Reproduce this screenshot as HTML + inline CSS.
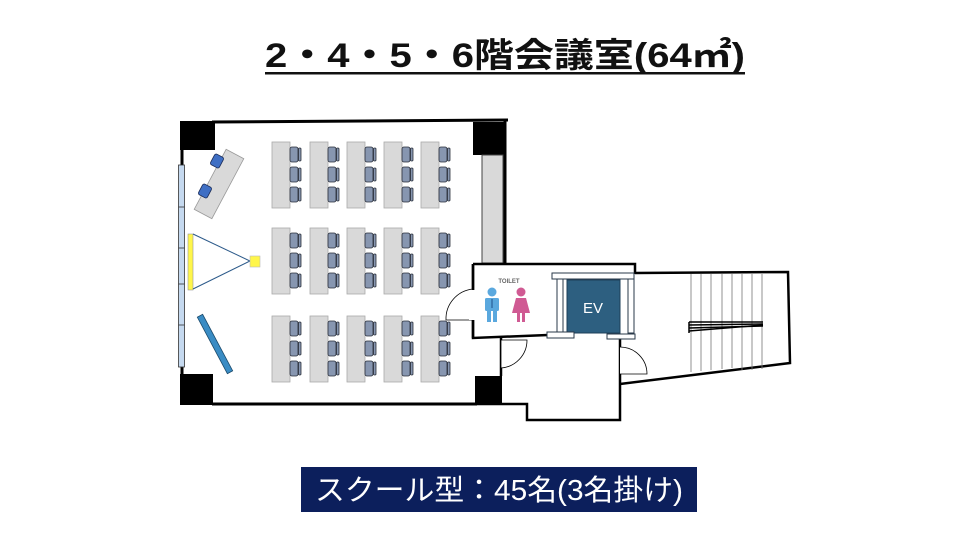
<!DOCTYPE html>
<html><head><meta charset="utf-8">
<style>
html,body{margin:0;padding:0;background:#fff;}
svg{display:block;}
.t{font-family:"Liberation Sans","Noto Sans CJK JP",sans-serif;}
</style></head>
<body>
<svg width="960" height="540" viewBox="0 0 960 540" xmlns="http://www.w3.org/2000/svg">
<defs>
<g id="desk">
  <rect x="0" y="0" width="18" height="66" fill="#d9d9d9" stroke="#aaa" stroke-width="0.8"/>
  <g fill="#8796b0" stroke="#2a2f3a" stroke-width="0.8">
    <rect x="18" y="5" width="8" height="15" rx="2"/>
    <rect x="18" y="25" width="8" height="15" rx="2"/>
    <rect x="18" y="45" width="8" height="15" rx="2"/>
    <rect x="26.5" y="6" width="2.5" height="13" rx="1"/>
    <rect x="26.5" y="26" width="2.5" height="13" rx="1"/>
    <rect x="26.5" y="46" width="2.5" height="13" rx="1"/>
  </g>
</g>
</defs>

<!-- Title -->
<text class="t" x="265" y="67" font-size="34" font-weight="bold" fill="#111" textLength="480" lengthAdjust="spacingAndGlyphs">2・4・5・6階会議室(64㎡)</text>
<rect x="265" y="72" width="480" height="2.5" fill="#111"/>

<!-- Room walls -->
<g stroke="#000" stroke-width="3" fill="none">
  <line x1="212" y1="122" x2="508" y2="120"/>
  <line x1="182" y1="148" x2="182" y2="376"/>
  <line x1="212" y1="404" x2="477" y2="404"/>
  <line x1="505" y1="120" x2="505" y2="264"/>
</g>
<rect x="180" y="121" width="35" height="29" fill="#000"/>
<rect x="473" y="122" width="32" height="33" fill="#000"/>
<rect x="180" y="374" width="33" height="31" fill="#000"/>
<rect x="475" y="376" width="27" height="28" fill="#000"/>
<rect x="482" y="155" width="21" height="108" fill="#d9d9d9" stroke="#444" stroke-width="1"/>

<!-- window strip -->
<rect x="178.5" y="165" width="6" height="202" fill="#c5d9ef" stroke="#333" stroke-width="0.8"/>
<g stroke="#333" stroke-width="0.8">
  <line x1="178.5" y1="207" x2="184.5" y2="207"/>
  <line x1="178.5" y1="248" x2="184.5" y2="248"/>
  <line x1="178.5" y1="284" x2="184.5" y2="284"/>
  <line x1="178.5" y1="325" x2="184.5" y2="325"/>
</g>

<!-- presenter table -->
<g transform="translate(219,184) rotate(28)">
  <rect x="-10" y="-34" width="20" height="68" fill="#d9d9d9" stroke="#999" stroke-width="0.8"/>
</g>
<g fill="#3f6fc4" stroke="#1a2a55" stroke-width="0.8">
  <rect x="212" y="155" width="10" height="12" rx="2" transform="rotate(28 217 161)"/>
  <rect x="200" y="185" width="10" height="12" rx="2" transform="rotate(28 205 191)"/>
</g>
<!-- screen and projector -->
<rect x="188" y="234" width="5" height="56" fill="#fff64a" stroke="#999" stroke-width="0.6"/>
<polyline points="193,234 250,261 193,289" fill="none" stroke="#2c5a8a" stroke-width="1"/>
<rect x="250" y="256" width="10" height="11" fill="#fff64a" stroke="#bbb" stroke-width="0.6"/>
<!-- whiteboard -->
<g transform="translate(215,344) rotate(-28)">
  <rect x="-3" y="-32" width="6" height="64" fill="#3a8cc4" stroke="#1b4a6b" stroke-width="0.8"/>
</g>

<!-- desks -->
<use href="#desk" x="272" y="142"/><use href="#desk" x="310" y="142"/><use href="#desk" x="347" y="142"/><use href="#desk" x="384" y="142"/><use href="#desk" x="421" y="142"/>
<use href="#desk" x="272" y="228"/><use href="#desk" x="310" y="228"/><use href="#desk" x="347" y="228"/><use href="#desk" x="384" y="228"/><use href="#desk" x="421" y="228"/>
<use href="#desk" x="272" y="316"/><use href="#desk" x="310" y="316"/><use href="#desk" x="347" y="316"/><use href="#desk" x="384" y="316"/><use href="#desk" x="421" y="316"/>

<!-- toilet / EV block -->
<g stroke="#000" stroke-width="2.5" fill="none">
  <polyline points="473,264 635,264 635,274"/>
  <polyline points="473,264 473,338 548,335"/>
  <polyline points="635,273 788,272 790,363 620,384"/>
  <polyline points="501,338 501,376"/>
  <polyline points="620,336 620,420 527,420 527,404 477,404"/>
</g>
<!-- toilet door -->
<path d="M473,289 A30,30 0 0 0 446,320 L473,320" fill="#fff" stroke="#000" stroke-width="0.8"/>
<rect x="469" y="290" width="6" height="30" fill="#fff"/>
<line x1="473" y1="264" x2="473" y2="290" stroke="#000" stroke-width="2.5"/>
<line x1="473" y1="320" x2="473" y2="338" stroke="#000" stroke-width="2.5"/>
<!-- corridor doors -->
<path d="M501,340 L501,368 A28,28 0 0 0 527,340 Z" fill="#fff" stroke="#000" stroke-width="0.8"/>
<path d="M620,347 A27,27 0 0 1 647,374 L620,374" fill="#fff" stroke="#000" stroke-width="0.8"/>

<!-- toilet icons -->
<text class="t" x="509" y="283" text-anchor="middle" font-size="6" font-weight="bold" fill="#666">TOILET</text>
<g fill="#5aa8de">
  <circle cx="492" cy="292" r="4.5"/>
  <rect x="485" y="298" width="14" height="13" rx="1.5"/>
  <rect x="487" y="311" width="4" height="11"/>
  <rect x="493" y="311" width="4" height="11"/>
</g>
<line x1="492" y1="299" x2="492" y2="308" stroke="#1f4f8a" stroke-width="1"/>
<g fill="#d05a93">
  <circle cx="521" cy="292" r="4.5"/>
  <polygon points="516,298 526,298 530,313 512,313"/>
  <rect x="517" y="313" width="3" height="9"/>
  <rect x="522" y="313" width="3" height="9"/>
</g>

<!-- EV -->
<rect x="552" y="273" width="82" height="6" fill="#fff" stroke="#2a3a4a" stroke-width="1"/>
<rect x="557" y="279" width="6" height="54" fill="#fff" stroke="#2a3a4a" stroke-width="1"/>
<rect x="628" y="279" width="6" height="54" fill="#fff" stroke="#2a3a4a" stroke-width="1"/>
<rect x="567" y="280" width="53" height="53" fill="#2d5f80" stroke="#1d3f58" stroke-width="1"/>
<text class="t" x="593" y="313" text-anchor="middle" font-size="15" fill="#fff">EV</text>
<rect x="547" y="332" width="27" height="6" fill="#fff" stroke="#2a3a4a" stroke-width="1"/>
<rect x="607" y="334" width="28" height="5" fill="#fff" stroke="#2a3a4a" stroke-width="1"/>

<!-- stairs -->
<g stroke="#777" stroke-width="0.8">
  <line x1="691" y1="274" x2="691" y2="372"/>
  <line x1="701" y1="274" x2="701" y2="371"/>
  <line x1="711" y1="274" x2="711" y2="370"/>
  <line x1="722" y1="274" x2="722" y2="369"/>
  <line x1="732" y1="274" x2="732" y2="368"/>
  <line x1="742" y1="274" x2="742" y2="370"/>
  <line x1="752" y1="274" x2="752" y2="370"/>
  <line x1="762" y1="274" x2="762" y2="369"/>
</g>
<g stroke="#000" stroke-width="1.5">
  <line x1="689" y1="322" x2="763" y2="322"/>
  <line x1="689" y1="325" x2="763" y2="324"/>
  <line x1="689" y1="328" x2="763" y2="326"/>
  <line x1="689" y1="331" x2="763" y2="325"/>
  <line x1="689" y1="322" x2="689" y2="333"/>
</g>

<!-- bottom label -->
<rect x="301" y="467" width="396" height="45" fill="#0c1f5c"/>
<text class="t" x="315" y="500" font-size="29" fill="#fff" textLength="368" lengthAdjust="spacingAndGlyphs">スクール型：45名(3名掛け)</text>
</svg>
</body></html>
